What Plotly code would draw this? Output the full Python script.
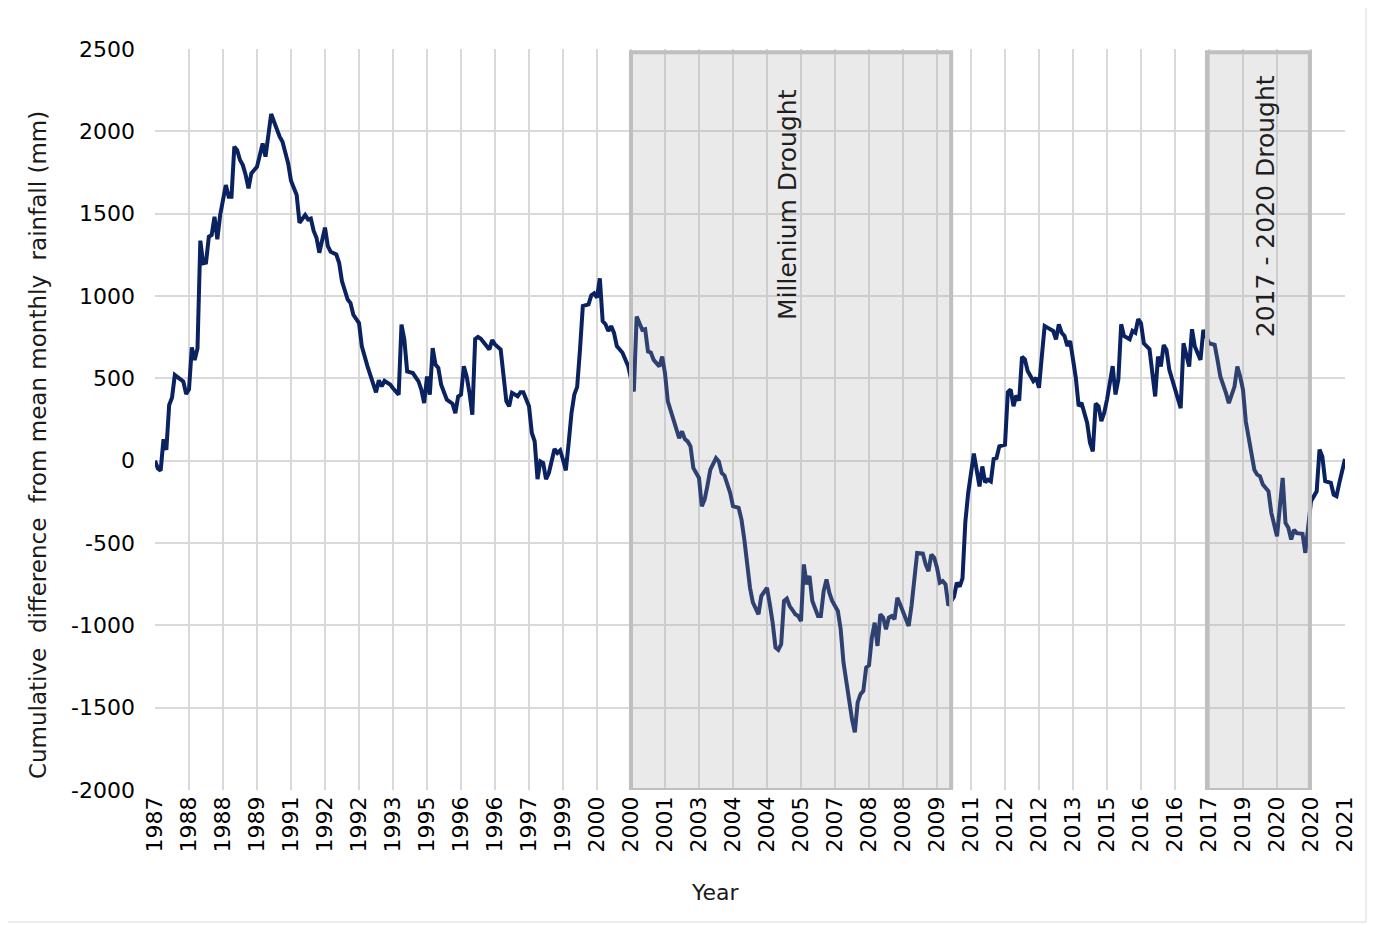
import plotly.graph_objects as go

# ---- data ----
months = [0, 1, 2, 3, 4, 5, 6, 7, 9, 10, 11, 12, 13, 14, 15, 16, 17, 18, 19, 20, 21, 22, 23, 25, 26, 27, 28, 29, 30, 31,
          32, 33, 34, 36, 38, 39, 41, 42, 44, 45, 47, 48, 50, 51, 53, 54, 55, 56, 57, 58, 60, 61, 62, 64, 65, 66, 67, 68, 69, 70,
          72, 73, 75, 76, 78, 79, 80, 81, 82, 83, 84, 85, 86, 87, 88, 89, 91, 93, 94, 95, 96, 97, 98, 99, 100, 101, 103, 105, 106, 107,
          108, 109, 110, 111, 112, 113, 114, 115, 116, 118, 119, 120, 122, 123, 124, 125, 126, 128, 129, 130, 131, 132, 133, 134, 135, 136, 137, 138, 139, 140,
          141, 142, 143, 144, 145, 146, 147, 148, 149, 150, 151, 153, 154, 155, 156, 157, 158, 159, 160, 161, 162, 163, 165, 166, 167, 169, 170, 172, 173, 174,
          175, 176, 177, 178, 179, 180, 181, 182, 183, 184, 185, 186, 187, 188, 189, 190, 192, 193, 194, 195, 196, 198, 199, 200, 201, 203, 204, 206, 207, 208,
          209, 210, 211, 212, 213, 214, 215, 216, 217, 218, 219, 220, 221, 222, 223, 224, 225, 226, 227, 228, 229, 230, 231, 232, 234, 235, 236, 237, 238, 239,
          241, 242, 243, 244, 245, 246, 247, 248, 249, 250, 251, 252, 253, 254, 255, 256, 257, 258, 259, 260, 261, 262, 263, 265, 266, 267, 268, 269, 271, 272,
          273, 274, 275, 276, 277, 278, 279, 280, 282, 283, 284, 285, 286, 287, 289, 290, 291, 292, 293, 294, 295, 296, 297, 298, 300, 301, 302, 303, 304, 305,
          306, 307, 308, 309, 310, 311, 312, 313, 314, 315, 317, 318, 319, 320, 321, 322, 323, 324, 325, 326, 327, 328, 329, 330, 331, 332, 333, 334, 335, 336,
          338, 339, 340, 341, 342, 344, 345, 346, 347, 348, 349, 351, 352, 353, 354, 355, 356, 357, 358, 360, 362, 363, 365, 366, 367, 369, 370, 372, 374, 375,
          376, 378, 379, 381, 382, 383, 384, 385, 386, 387, 388, 389, 390, 391, 393, 394, 396, 398, 399, 400, 401, 402, 403, 405, 406, 408, 410, 411, 412, 413,
          415, 416, 417, 418, 420]

cum_diff = [0, -47, -60, 130, 65, 338, 382, 520, 494, 480, 405, 433, 688, 611, 682, 1336, 1198, 1202, 1360, 1370, 1481, 1344, 1492, 1674, 1603, 1603, 1907, 1886, 1826, 1795,
            1735, 1654, 1745, 1785, 1927, 1846, 2105, 2058, 1967, 1937, 1805, 1700, 1613, 1445, 1492, 1465, 1470, 1395, 1354, 1263, 1415, 1303, 1269, 1252, 1200, 1089, 1039, 978, 957, 886,
            836, 694, 573, 515, 415, 488, 451, 484, 472, 462, 440, 421, 401, 826, 735, 542, 532, 482, 431, 350, 512, 401, 684, 583, 563, 461, 370, 346, 289, 390,
            401, 573, 512, 411, 279, 739, 751, 740, 716, 675, 732, 706, 675, 493, 361, 330, 412, 391, 416, 416, 371, 331, 168, 118, -112, -4, -14, -112, -75, -4,
            71, 47, 63, 6, -59, 107, 290, 402, 448, 675, 939, 949, 1004, 1016, 990, 1107, 848, 828, 787, 817, 776, 696, 655, 614, 574, 420, 875, 794, 798, 663,
            657, 612, 592, 572, 632, 531, 360, 299, 259, 188, 137, 178, 131, 117, 87, -44, -105, -277, -236, -150, -55, 16, -4, -75, -91, -196, -277, -287, -358, -479,
            -650, -772, -860, -903, -933, -822, -792, -772, -873, -984, -1135, -1149, -1115, -852, -838, -883, -907, -933, -943, -974, -630, -751, -700, -852, -943, -943, -792, -721, -802, -852,
            -913, -1024, -1226, -1347, -1489, -1570, -1650, -1468, -1418, -1398, -1256, -1242, -1075, -984, -1125, -933, -953, -1024, -953, -943, -963, -832, -873, -963, -1004, -883, -721, -560, -564, -630,
            -671, -570, -590, -650, -741, -731, -751, -880, -826, -740, -765, -715, -373, -197, 43, -55, -156, -35, -132, -116, -126, 10, 16, 87, 97, 416, 432, 331, 396, 365,
            631, 615, 544, 514, 483, 503, 443, 635, 818, 808, 788, 737, 828, 777, 757, 696, 727, 615, 503, 331, 351, 290, 229, 108, 57, 347, 331, 240, 290, 371,
            574, 402, 493, 828, 757, 737, 788, 777, 859, 834, 713, 677, 531, 390, 632, 572, 703, 673, 551, 440, 319, 713, 572, 798, 693, 612, 794, 713, 703, 612,
            511, 410, 349, 450, 572, 511, 430, 238, 127, 26, -55, -85, -95, -145, -186, -317, -459, -105, -378, -408, -479, -420, -440, -444, -560, -246, -186, 67, 26, -125,
            -135, -206, -216, -135, 10]

tick_labels = ["1987", "1988", "1988", "1989", "1991", "1992", "1992", "1993", "1995", "1996", "1996", "1997",
               "1999", "2000", "2000", "2001", "2003", "2004", "2004", "2005", "2007", "2008", "2008", "2009",
               "2011", "2012", "2012", "2013", "2015", "2016", "2016", "2017", "2019", "2020", "2020", "2021"]
TICK_STEP = 12  # points between labels

y_ticks = [-2000, -1500, -1000, -500, 0, 500, 1000, 1500, 2000, 2500]

droughts = [
    {"name": "Millenium Drought", "start": 168, "end": 281},
    {"name": "2017 - 2020 Drought", "start": 371.3, "end": 407.6},
]

# ---- figure ----
tick_vals = [i * TICK_STEP for i in range(len(tick_labels))]
NAVY = "#0a2260"
GRID = "#d9d9d9"
FONT = "DejaVu Sans, Verdana, sans-serif"

fig = go.Figure()
fig.add_trace(go.Scatter(x=months, y=cum_diff, mode="lines",
                         line=dict(color=NAVY, width=4), showlegend=False, hoverinfo="skip"))

shapes = []
annotations = []
label_pos = [(223.4, 1559), (391.8, 1546)]
for d, (lx, ly) in zip(droughts, label_pos):
    shapes.append(dict(type="rect", xref="x", yref="y", x0=d["start"], x1=d["end"], y0=-2000, y1=2480,
                       fillcolor="rgba(168,168,168,0.24)", line=dict(color="#bfbfbf", width=4), layer="above"))
    annotations.append(dict(x=lx, y=ly, xref="x", yref="y", text=d["name"], textangle=-90, showarrow=False,
                            xanchor="center", yanchor="middle",
                            font=dict(family=FONT, size=25, color="#1f1f1f")))

# outer chart border
shapes.append(dict(type="rect", xref="paper", yref="paper", x0=-0.1252, x1=1.0176, y0=-0.1781, y1=1.0594,
                   line=dict(color="#d9d9d9", width=1), fillcolor="rgba(0,0,0,0)", layer="below"))

annotations.append(dict(x=-0.0983, y=0.4656, xref="paper", yref="paper", textangle=-90, showarrow=False,
                        xanchor="center", yanchor="middle",
                        text="Cumulative\u00a0 difference\u00a0 from mean monthly\u00a0 rainfall (mm)",
                        font=dict(family=FONT, size=23, color="#1a1a1a")))
annotations.append(dict(x=0.4714, y=-0.139, xref="paper", yref="paper", showarrow=False, text="Year",
                        xanchor="center", yanchor="middle",
                        font=dict(family=FONT, size=22, color="#1a1a1a")))

fig.update_layout(
    width=1377, height=925,
    margin=dict(l=147, r=40, t=41, b=143),
    paper_bgcolor="white", plot_bgcolor="white",
    shapes=shapes, annotations=annotations,
    xaxis=dict(range=[0, 420], tickmode="array", tickvals=tick_vals, ticktext=tick_labels, tickangle=-90,
               showgrid=True, gridcolor=GRID, gridwidth=2, zeroline=False, showline=False,
               tickfont=dict(family=FONT, size=22, color="black"), ticks="", ticklabelstandoff=1),
    yaxis=dict(range=[-2000, 2500], tickmode="array", tickvals=y_ticks, ticktext=[str(v) for v in y_ticks],
               showgrid=True, gridcolor=GRID, gridwidth=2,
               zeroline=False, showline=False, tickfont=dict(family=FONT, size=22, color="black"),
               ticks="", ticklabelstandoff=19),
)

fig.write_html("out.html")
